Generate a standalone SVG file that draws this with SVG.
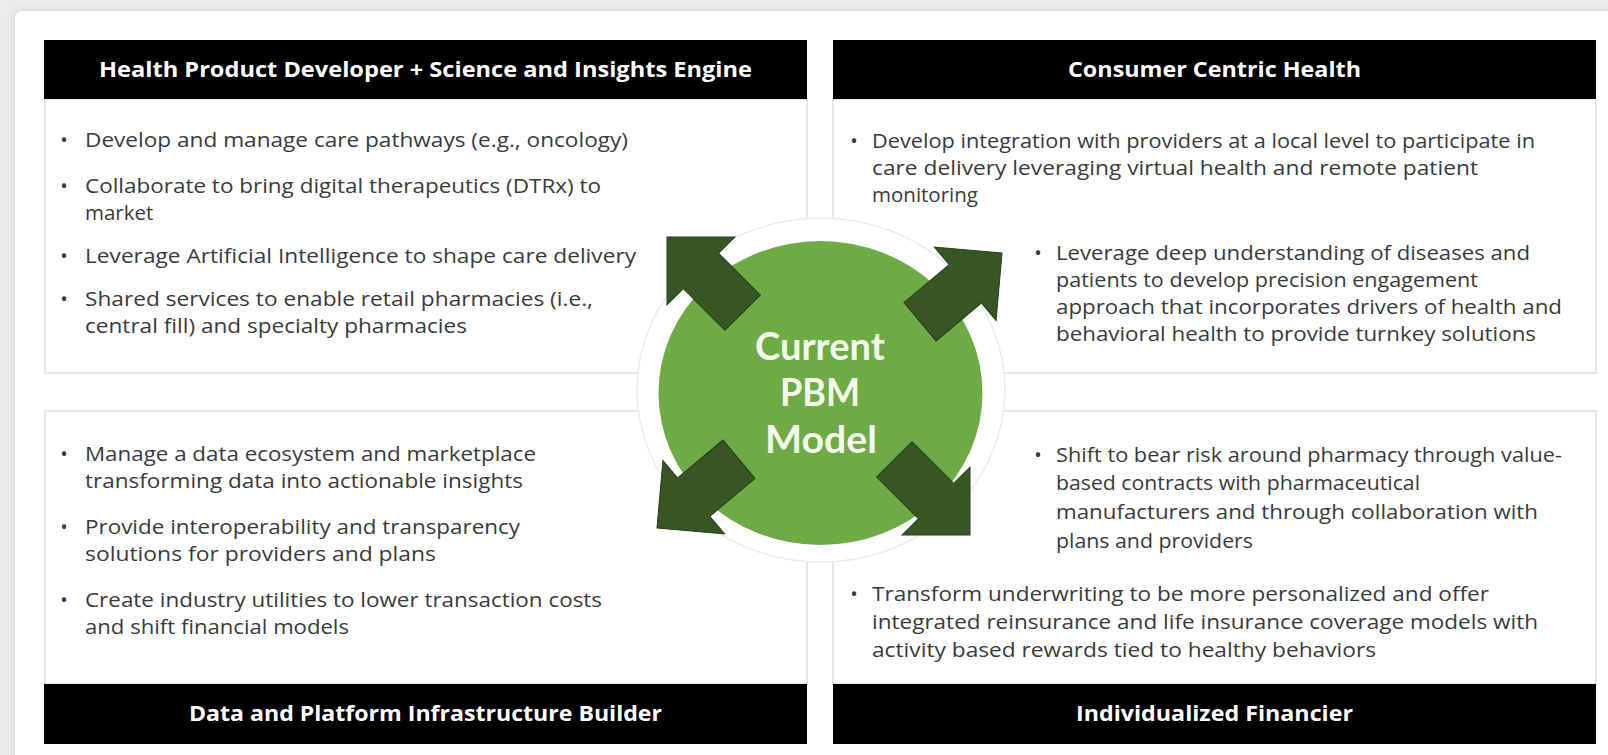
<svg xmlns="http://www.w3.org/2000/svg" xmlns:xlink="http://www.w3.org/1999/xlink" width="1608" height="755" viewBox="0 0 1608 755">
<style>
.box{fill:#ffffff;stroke:#dedede;stroke-width:1.5}
.hdr{fill:#000000}
.ht{font-family:"Open Sans","Liberation Sans",sans-serif;font-weight:700;font-size:21px;fill:#ffffff;text-anchor:middle}
.t{font-family:"Open Sans","Liberation Sans",sans-serif;font-size:20.5px;fill:#3a3a3a}
.b{font-family:"Open Sans","Liberation Sans",sans-serif;font-size:20px;fill:#3a3a3a;text-anchor:middle}
.ct{font-family:Lato,"Open Sans","Liberation Sans",sans-serif;font-weight:700;font-size:38px;fill:#f4f9ee;text-anchor:middle}
.arrow{fill:#375623;stroke:#27401a;stroke-width:1}
</style>
<defs>
<filter id="sh" x="-5%" y="-5%" width="110%" height="110%">
<feDropShadow dx="0" dy="0" stdDeviation="5" flood-color="#000000" flood-opacity="0.12"/>
</filter>
<polygon id="arw" points="0,0 -48,-48 -48,-25 -107,-25 -107,25 -48,25 -48,48"/>
</defs>
<rect x="0" y="0" width="1608" height="755" fill="#ececec"/>
<rect x="15" y="11" width="1610" height="760" rx="8" fill="#ffffff" filter="url(#sh)"/>

<g id="node-top-left">
<rect class="box" x="45" y="99" width="762" height="274"/>
<rect class="hdr" x="44" y="40" width="763" height="59"/>
<text class="ht" x="425.5" y="77" textLength="653" lengthAdjust="spacingAndGlyphs">Health Product Developer + Science and Insights Engine</text>
<text class="b" x="64" y="147">•</text>
<text class="t" x="85" y="147" textLength="543" lengthAdjust="spacingAndGlyphs">Develop and manage care pathways (e.g., oncology)</text>
<text class="b" x="64" y="193">•</text>
<text class="t" x="85" y="193" textLength="516" lengthAdjust="spacingAndGlyphs">Collaborate to bring digital therapeutics (DTRx) to</text>
<text class="t" x="85" y="220">market</text>
<text class="b" x="64" y="263">•</text>
<text class="t" x="85" y="263" textLength="551" lengthAdjust="spacingAndGlyphs">Leverage Artificial Intelligence to shape care delivery</text>
<text class="b" x="64" y="306">•</text>
<text class="t" x="85" y="306" textLength="508" lengthAdjust="spacingAndGlyphs">Shared services to enable retail pharmacies (i.e.,</text>
<text class="t" x="85" y="333" textLength="382" lengthAdjust="spacingAndGlyphs">central fill) and specialty pharmacies</text>
</g>

<g id="node-top-right">
<rect class="box" x="833" y="99" width="763" height="274"/>
<rect class="hdr" x="833" y="40" width="763" height="59"/>
<text class="ht" x="1214.5" y="77" textLength="293" lengthAdjust="spacingAndGlyphs">Consumer Centric Health</text>
<text class="b" x="854" y="148">•</text>
<text class="t" x="872" y="148" textLength="663" lengthAdjust="spacingAndGlyphs">Develop integration with providers at a local level to participate in</text>
<text class="t" x="872" y="175" textLength="606" lengthAdjust="spacingAndGlyphs">care delivery leveraging virtual health and remote patient</text>
<text class="t" x="872" y="202">monitoring</text>
<text class="b" x="1038" y="260">•</text>
<text class="t" x="1056" y="260" textLength="474" lengthAdjust="spacingAndGlyphs">Leverage deep understanding of diseases and</text>
<text class="t" x="1056" y="287" textLength="422" lengthAdjust="spacingAndGlyphs">patients to develop precision engagement</text>
<text class="t" x="1056" y="314" textLength="506" lengthAdjust="spacingAndGlyphs">approach that incorporates drivers of health and</text>
<text class="t" x="1056" y="341" textLength="480" lengthAdjust="spacingAndGlyphs">behavioral health to provide turnkey solutions</text>
</g>

<g id="node-bottom-left">
<rect class="box" x="45" y="411" width="762" height="273"/>
<rect class="hdr" x="44" y="684" width="763" height="60"/>
<text class="ht" x="425.5" y="721" textLength="473" lengthAdjust="spacingAndGlyphs">Data and Platform Infrastructure Builder</text>
<text class="b" x="64" y="461">•</text>
<text class="t" x="85" y="461" textLength="451" lengthAdjust="spacingAndGlyphs">Manage a data ecosystem and marketplace</text>
<text class="t" x="85" y="488" textLength="438" lengthAdjust="spacingAndGlyphs">transforming data into actionable insights</text>
<text class="b" x="64" y="534">•</text>
<text class="t" x="85" y="534" textLength="435" lengthAdjust="spacingAndGlyphs">Provide interoperability and transparency</text>
<text class="t" x="85" y="561" textLength="351" lengthAdjust="spacingAndGlyphs">solutions for providers and plans</text>
<text class="b" x="64" y="607">•</text>
<text class="t" x="85" y="607" textLength="517" lengthAdjust="spacingAndGlyphs">Create industry utilities to lower transaction costs</text>
<text class="t" x="85" y="634" textLength="264" lengthAdjust="spacingAndGlyphs">and shift financial models</text>
</g>

<g id="node-bottom-right">
<rect class="box" x="833" y="411" width="763" height="273"/>
<rect class="hdr" x="833" y="684" width="763" height="60"/>
<text class="ht" x="1214.5" y="721" textLength="277" lengthAdjust="spacingAndGlyphs">Individualized Financier</text>
<text class="b" x="1038" y="462">•</text>
<text class="t" x="1056" y="462" textLength="506" lengthAdjust="spacingAndGlyphs">Shift to bear risk around pharmacy through value-</text>
<text class="t" x="1056" y="490" textLength="364" lengthAdjust="spacingAndGlyphs">based contracts with pharmaceutical</text>
<text class="t" x="1056" y="519" textLength="482" lengthAdjust="spacingAndGlyphs">manufacturers and through collaboration with</text>
<text class="t" x="1056" y="548" textLength="197" lengthAdjust="spacingAndGlyphs">plans and providers</text>
<text class="b" x="854" y="601">•</text>
<text class="t" x="872" y="601" textLength="617" lengthAdjust="spacingAndGlyphs">Transform underwriting to be more personalized and offer</text>
<text class="t" x="872" y="629" textLength="666" lengthAdjust="spacingAndGlyphs">integrated reinsurance and life insurance coverage models with</text>
<text class="t" x="872" y="657" textLength="504" lengthAdjust="spacingAndGlyphs">activity based rewards tied to healthy behaviors</text>
</g>

<g id="node-center">
<ellipse cx="821" cy="390" rx="184" ry="172" fill="#ffffff" stroke="#ececec" stroke-width="1.5"/>
<ellipse cx="820.5" cy="393" rx="162" ry="152" fill="#6eab45"/>
</g>

<g id="connectors">
<use xlink:href="#arw" class="arrow" transform="translate(667,237) rotate(-135)"/>
<use xlink:href="#arw" class="arrow" transform="translate(1002,253) rotate(-40)"/>
<use xlink:href="#arw" class="arrow" transform="translate(657,528) rotate(140)"/>
<use xlink:href="#arw" class="arrow" transform="translate(970,535) rotate(45)"/>
</g>

<g id="center-label">
<text class="ct" x="820" y="360" textLength="130" lengthAdjust="spacingAndGlyphs">Current</text>
<text class="ct" x="820" y="406" textLength="80" lengthAdjust="spacingAndGlyphs">PBM</text>
<text class="ct" x="821" y="453" textLength="112" lengthAdjust="spacingAndGlyphs">Model</text>
</g>
</svg>
